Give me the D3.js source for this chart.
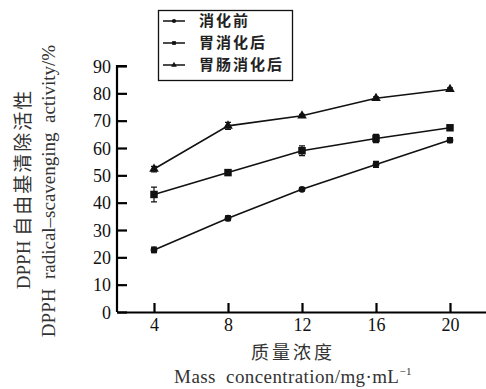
<!DOCTYPE html>
<html><head><meta charset="utf-8">
<script src="https://cdn.jsdelivr.net/npm/d3@7"></script>
<style>body{margin:0;background:#fff}svg{display:block}</style>
</head><body>
<svg id="c" width="486" height="389"></svg>
<script>
const concentrations = [4, 8, 12, 16, 20];
const seriesNames = ["消化前", "胃消化后", "胃肠消化后"];
const beforeDigestion = [22.7, 34.3, 44.9, 54.0, 62.9];
const beforeErr = [1.0, 0.9, 0.6, 1.1, 0.9];
const gastricDigestion = [43.0, 51.0, 59.0, 63.5, 67.4];
const gastricErr = [2.7, 0.8, 1.8, 1.5, 0.5];
const intestinalDigestion = [52.3, 68.1, 71.8, 78.2, 81.5];
const intestinalErr = [1.0, 1.3, 0.5, 0.5, 0.5];
const yTicks = [0, 10, 20, 30, 40, 50, 60, 70, 80, 90];

const svg = d3.select("#c");
const x = d3.scaleLinear().domain([2, 22]).range([117, 487]);
const y = d3.scaleLinear().domain([0, 90]).range([312, 66]);
const serif = "'Liberation Serif','Times New Roman',serif";
const cjk = "'Noto Sans CJK SC',sans-serif";

// axes
const yAxis = d3.axisLeft(y).tickValues(yTicks).tickSize(-10).tickPadding(6).tickSizeOuter(0);
const gy = svg.append("g").attr("transform", "translate(117,0)").call(yAxis);
gy.select(".domain").attr("stroke-width", 2.2).attr("d", "M0,312V66H10");
gy.selectAll(".tick line").attr("stroke-width", 2.2);
gy.selectAll(".tick text").attr("font-family", serif).attr("font-size", 18).attr("fill", "#111").attr("x", -6).attr("dy", "0.35em");

const xAxis = d3.axisBottom(x).tickValues(concentrations).tickSize(-9).tickPadding(6).tickSizeOuter(0);
const gx = svg.append("g").attr("transform", "translate(0,312)").call(xAxis);
gx.select(".domain").attr("stroke-width", 2.2);
gx.selectAll(".tick line").attr("stroke-width", 2.2);
gx.selectAll(".tick text").attr("font-family", serif).attr("font-size", 18).attr("fill", "#111");

// series
const series = [
  {name: seriesNames[0], v: beforeDigestion, e: beforeErr, sym: d3.symbolCircle, size: 36},
  {name: seriesNames[1], v: gastricDigestion, e: gastricErr, sym: d3.symbolSquare, size: 56},
  {name: seriesNames[2], v: intestinalDigestion, e: intestinalErr, sym: d3.symbolTriangle, size: 40}
];
const line = d3.line().x((d, i) => x(concentrations[i])).y(d => y(d));
series.forEach(s => {
  const g = svg.append("g");
  g.append("path").attr("d", line(s.v)).attr("fill", "none").attr("stroke", "#111").attr("stroke-width", 1.6);
  s.v.forEach((v, i) => {
    const cx = x(concentrations[i]);
    const y1 = y(v + s.e[i]), y2 = y(v - s.e[i]);
    g.append("path").attr("d", `M${cx},${y1}V${y2}M${cx-3},${y1}H${cx+3}M${cx-3},${y2}H${cx+3}`)
      .attr("stroke", "#111").attr("stroke-width", 1.2).attr("fill", "none");
    g.append("path").attr("d", d3.symbol(s.sym, s.size)()).attr("transform", `translate(${cx},${y(v)})`).attr("fill", "#111");
  });
});

// legend
const lg = svg.append("g");
lg.append("rect").attr("x", 158.5).attr("y", 10.5).attr("width", 134).attr("height", 70).attr("fill", "#fff").attr("stroke", "#111").attr("stroke-width", 1.3);
series.forEach((s, i) => {
  const yy = 21 + i * 22;
  lg.append("line").attr("x1", 163).attr("x2", 185).attr("y1", yy).attr("y2", yy).attr("stroke", "#111").attr("stroke-width", 1.5);
  lg.append("path").attr("d", d3.symbol(s.sym, 14)()).attr("transform", `translate(174,${yy})`).attr("fill", "#111");
  lg.append("text").attr("x", 199).attr("y", yy).attr("dy", "0.36em").attr("font-family", cjk).attr("font-weight", "bold").attr("font-size", 15).attr("letter-spacing", 2).attr("fill", "#222").text(s.name);
});

// axis titles
svg.append("text").attr("x", 293).attr("y", 359).attr("text-anchor", "middle").attr("font-family", cjk).attr("font-size", 18).attr("fill", "#333").attr("letter-spacing", 3).text("质量浓度");
const xt = svg.append("text").attr("x", 293).attr("y", 383).attr("text-anchor", "middle").attr("font-family", serif).attr("font-size", 19).attr("fill", "#333").attr("letter-spacing", 0.4).attr("xml:space", "preserve");
xt.append("tspan").text("Mass  concentration/mg·mL");
xt.append("tspan").attr("dy", -8).attr("font-size", 11).text("−1");

svg.append("text").attr("transform", "translate(30,189) rotate(-90)").attr("text-anchor", "middle").attr("font-size", 19).attr("fill", "#333")
  .call(t => { t.append("tspan").attr("font-family", serif).text("DPPH "); t.append("tspan").attr("font-family", cjk).attr("letter-spacing", 2).text("自由基清除活性"); });
svg.append("text").attr("transform", "translate(55,191) rotate(-90)").attr("text-anchor", "middle").attr("font-size", 19).attr("fill", "#333").attr("font-family", serif).attr("xml:space", "preserve")
  .text("DPPH  radical–scavenging  activity/%");
</script>
</body></html>
